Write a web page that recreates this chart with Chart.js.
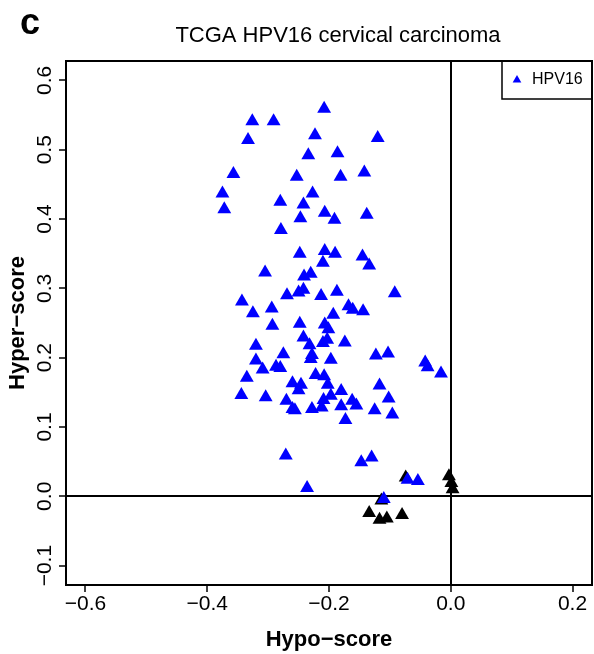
<!DOCTYPE html>
<html>
<head>
<meta charset="utf-8">
<script src="https://cdn.jsdelivr.net/npm/chart.js@4.4.1/dist/chart.umd.min.js"></script>
<style>
  html, body { margin: 0; padding: 0; background: #fff; overflow: hidden; }
  #wrap { width: 594px; height: 654px; }
  canvas { display: block; }
</style>
</head>
<body>
<div id="wrap"><canvas id="scoreChart" width="594" height="654"></canvas></div>
<script>
// HPV16 samples (blue)
const hpv16X = [
  -0.208, -0.326, -0.291, -0.223, -0.120, -0.333, -0.234, -0.186, -0.357, -0.253,
  -0.181, -0.142, -0.375, -0.227, -0.280, -0.242, -0.372, -0.207, -0.191, -0.138,
  -0.247, -0.279, -0.248, -0.207, -0.190, -0.145, -0.134, -0.210, -0.305, -0.241,
  -0.230, -0.269, -0.250, -0.242, -0.213, -0.187, -0.092, -0.343, -0.294, -0.325,
  -0.168, -0.161, -0.144, -0.193, -0.293, -0.248, -0.207, -0.201, -0.242, -0.232,
  -0.203, -0.210, -0.174, -0.320, -0.275, -0.228, -0.230, -0.123, -0.103, -0.320,
  -0.197, -0.287, -0.280, -0.309, -0.335, -0.222, -0.208, -0.042, -0.038, -0.016,
  -0.202, -0.260, -0.246, -0.250, -0.344, -0.304, -0.270, -0.209, -0.197, -0.180,
  -0.162, -0.155, -0.117, -0.102, -0.260, -0.256, -0.228, -0.212, -0.180, -0.125,
  -0.096, -0.173, -0.271, -0.130, -0.147, -0.236, -0.071, -0.054, -0.110
];
const hpv16Y = [
  0.559, 0.541, 0.541, 0.521, 0.517, 0.514, 0.492, 0.495, 0.465, 0.461,
  0.461, 0.467, 0.437, 0.437, 0.425, 0.421, 0.414, 0.409, 0.399, 0.406,
  0.401, 0.384, 0.350, 0.354, 0.350, 0.346, 0.333, 0.337, 0.323, 0.317,
  0.321, 0.290, 0.294, 0.298, 0.289, 0.295, 0.293, 0.281, 0.271, 0.264,
  0.274, 0.269, 0.267, 0.262, 0.246, 0.249, 0.248, 0.241, 0.229, 0.218,
  0.226, 0.221, 0.222, 0.217, 0.205, 0.204, 0.198, 0.203, 0.206, 0.196,
  0.197, 0.187, 0.185, 0.183, 0.171, 0.175, 0.173, 0.193, 0.186, 0.177,
  0.161, 0.163, 0.161, 0.153, 0.146, 0.143, 0.138, 0.139, 0.145, 0.152,
  0.138, 0.131, 0.160, 0.141, 0.126, 0.124, 0.126, 0.128, 0.130, 0.124,
  0.118, 0.110, 0.059, 0.056, 0.049, 0.012, 0.024, 0.022, -0.004
];

// other samples (black)
const otherX = [-0.074, -0.003, 0.001, 0.003, -0.114, -0.134, -0.117, -0.105, -0.080];
const otherY = [0.027, 0.029, 0.019, 0.010, -0.006, -0.024, -0.034, -0.032, -0.027];

const xTicks = [-0.6, -0.4, -0.2, 0.0, 0.2];
const yTicks = [-0.1, 0.0, 0.1, 0.2, 0.3, 0.4, 0.5, 0.6];

const FONT = "'Liberation Sans', Arial, Helvetica, sans-serif";

// R style tick label: true minus sign, one decimal
function fmt(v) {
  return (v < -1e-9 ? "\u2212" : "") + Math.abs(v).toFixed(1);
}

function toPoints(xs, ys) {
  return xs.map((x, i) => ({ x: x, y: ys[i] }));
}

// only the zero lines are drawn across the plot
function zeroLine(c) {
  return c.tick && Math.abs(c.tick.value) < 1e-9 ? "#000" : "rgba(0,0,0,0)";
}

// box, title, panel letter and legend like the R figure
const decorPlugin = {
  id: "decor",
  afterDraw(chart) {
    const ctx = chart.ctx;
    const a = chart.chartArea;
    ctx.save();
    ctx.strokeStyle = "#000";
    ctx.lineWidth = 2;
    ctx.strokeRect(a.left, a.top, a.right - a.left, a.bottom - a.top);

    ctx.fillStyle = "#000";
    ctx.textBaseline = "alphabetic";
    ctx.font = "bold 36px " + FONT;
    ctx.textAlign = "left";
    ctx.fillText("c", 20, 34);

    ctx.font = "22px " + FONT;
    ctx.textAlign = "center";
    ctx.fillText("TCGA HPV16 cervical carcinoma", 338, 42);

    // legend
    const lw = 90, lh = 38;
    ctx.lineWidth = 1.5;
    ctx.strokeRect(a.right - lw, a.top, lw, lh);
    const ds = chart.data.datasets[0];
    ctx.fillStyle = ds.backgroundColor;
    ctx.beginPath();
    const r = 5, cx = a.right - 75, cy = a.top + 19;
    ctx.moveTo(cx, cy - r);
    ctx.lineTo(cx + r * 0.866, cy + r * 0.5);
    ctx.lineTo(cx - r * 0.866, cy + r * 0.5);
    ctx.closePath();
    ctx.fill();
    ctx.fillStyle = "#000";
    ctx.font = "16px " + FONT;
    ctx.textAlign = "left";
    ctx.textBaseline = "middle";
    ctx.fillText(ds.label, a.right - 60, a.top + 19);
    ctx.restore();
  }
};

const ctx = document.getElementById("scoreChart").getContext("2d");

const myChart = new Chart(ctx, {
  type: "scatter",
  data: {
    datasets: [
      {
        label: "HPV16",
        data: toPoints(hpv16X, hpv16Y),
        pointStyle: "triangle",
        pointRadius: 8,
        pointBorderWidth: 0,
        backgroundColor: "#0000ff",
        borderColor: "#0000ff",
      },
      {
        label: "other",
        data: toPoints(otherX, otherY),
        pointStyle: "triangle",
        pointRadius: 8,
        pointBorderWidth: 0,
        backgroundColor: "#000000",
        borderColor: "#000000",
      },
    ],
  },
  options: {
    responsive: false,
    animation: false,
    events: [],
    layout: { autoPadding: false, padding: { top: 61, right: 2, left: 0, bottom: 0 } },
    plugins: {
      legend: { display: false },
      tooltip: { enabled: false },
    },
    scales: {
      x: {
        type: "linear",
        min: -0.632,
        max: 0.232,
        afterBuildTicks: (s) => { s.ticks = xTicks.map((v) => ({ value: v })); },
        afterFit: (s) => { s.height = 69; s.paddingLeft = 0; s.paddingRight = 0; },
        border: { display: false },
        grid: {
          drawOnChartArea: true,
          color: zeroLine,
          lineWidth: 2,
          tickLength: 7,
          tickColor: "#000",
          tickWidth: 1.5,
        },
        ticks: {
          color: "#000",
          font: { family: FONT, size: 21 },
          padding: 0,
          maxRotation: 0,
          callback: (v) => fmt(v),
        },
        title: {
          display: true,
          text: "Hypo\u2212score",
          color: "#000",
          font: { family: FONT, size: 22, weight: "bold" },
          padding: { top: 0, bottom: 1 },
        },
      },
      y: {
        type: "linear",
        min: -0.128,
        max: 0.628,
        afterBuildTicks: (s) => { s.ticks = yTicks.map((v) => ({ value: v })); },
        afterFit: (s) => { s.width = 66; s.paddingTop = 0; s.paddingBottom = 0; },
        border: { display: false },
        grid: {
          drawOnChartArea: true,
          color: zeroLine,
          lineWidth: 2,
          tickLength: 7,
          tickColor: "#000",
          tickWidth: 1.5,
        },
        ticks: {
          color: "#000",
          font: { family: FONT, size: 21 },
          minRotation: 90,
          maxRotation: 90,
          crossAlign: "center",
          padding: -7,
          callback: (v) => fmt(v),
        },
        title: {
          display: true,
          text: "Hyper\u2212score",
          color: "#000",
          font: { family: FONT, size: 22, weight: "bold" },
          padding: { top: 5, bottom: 0 },
        },
      },
    },
  },
  plugins: [decorPlugin],
});
</script>
</body>
</html>
